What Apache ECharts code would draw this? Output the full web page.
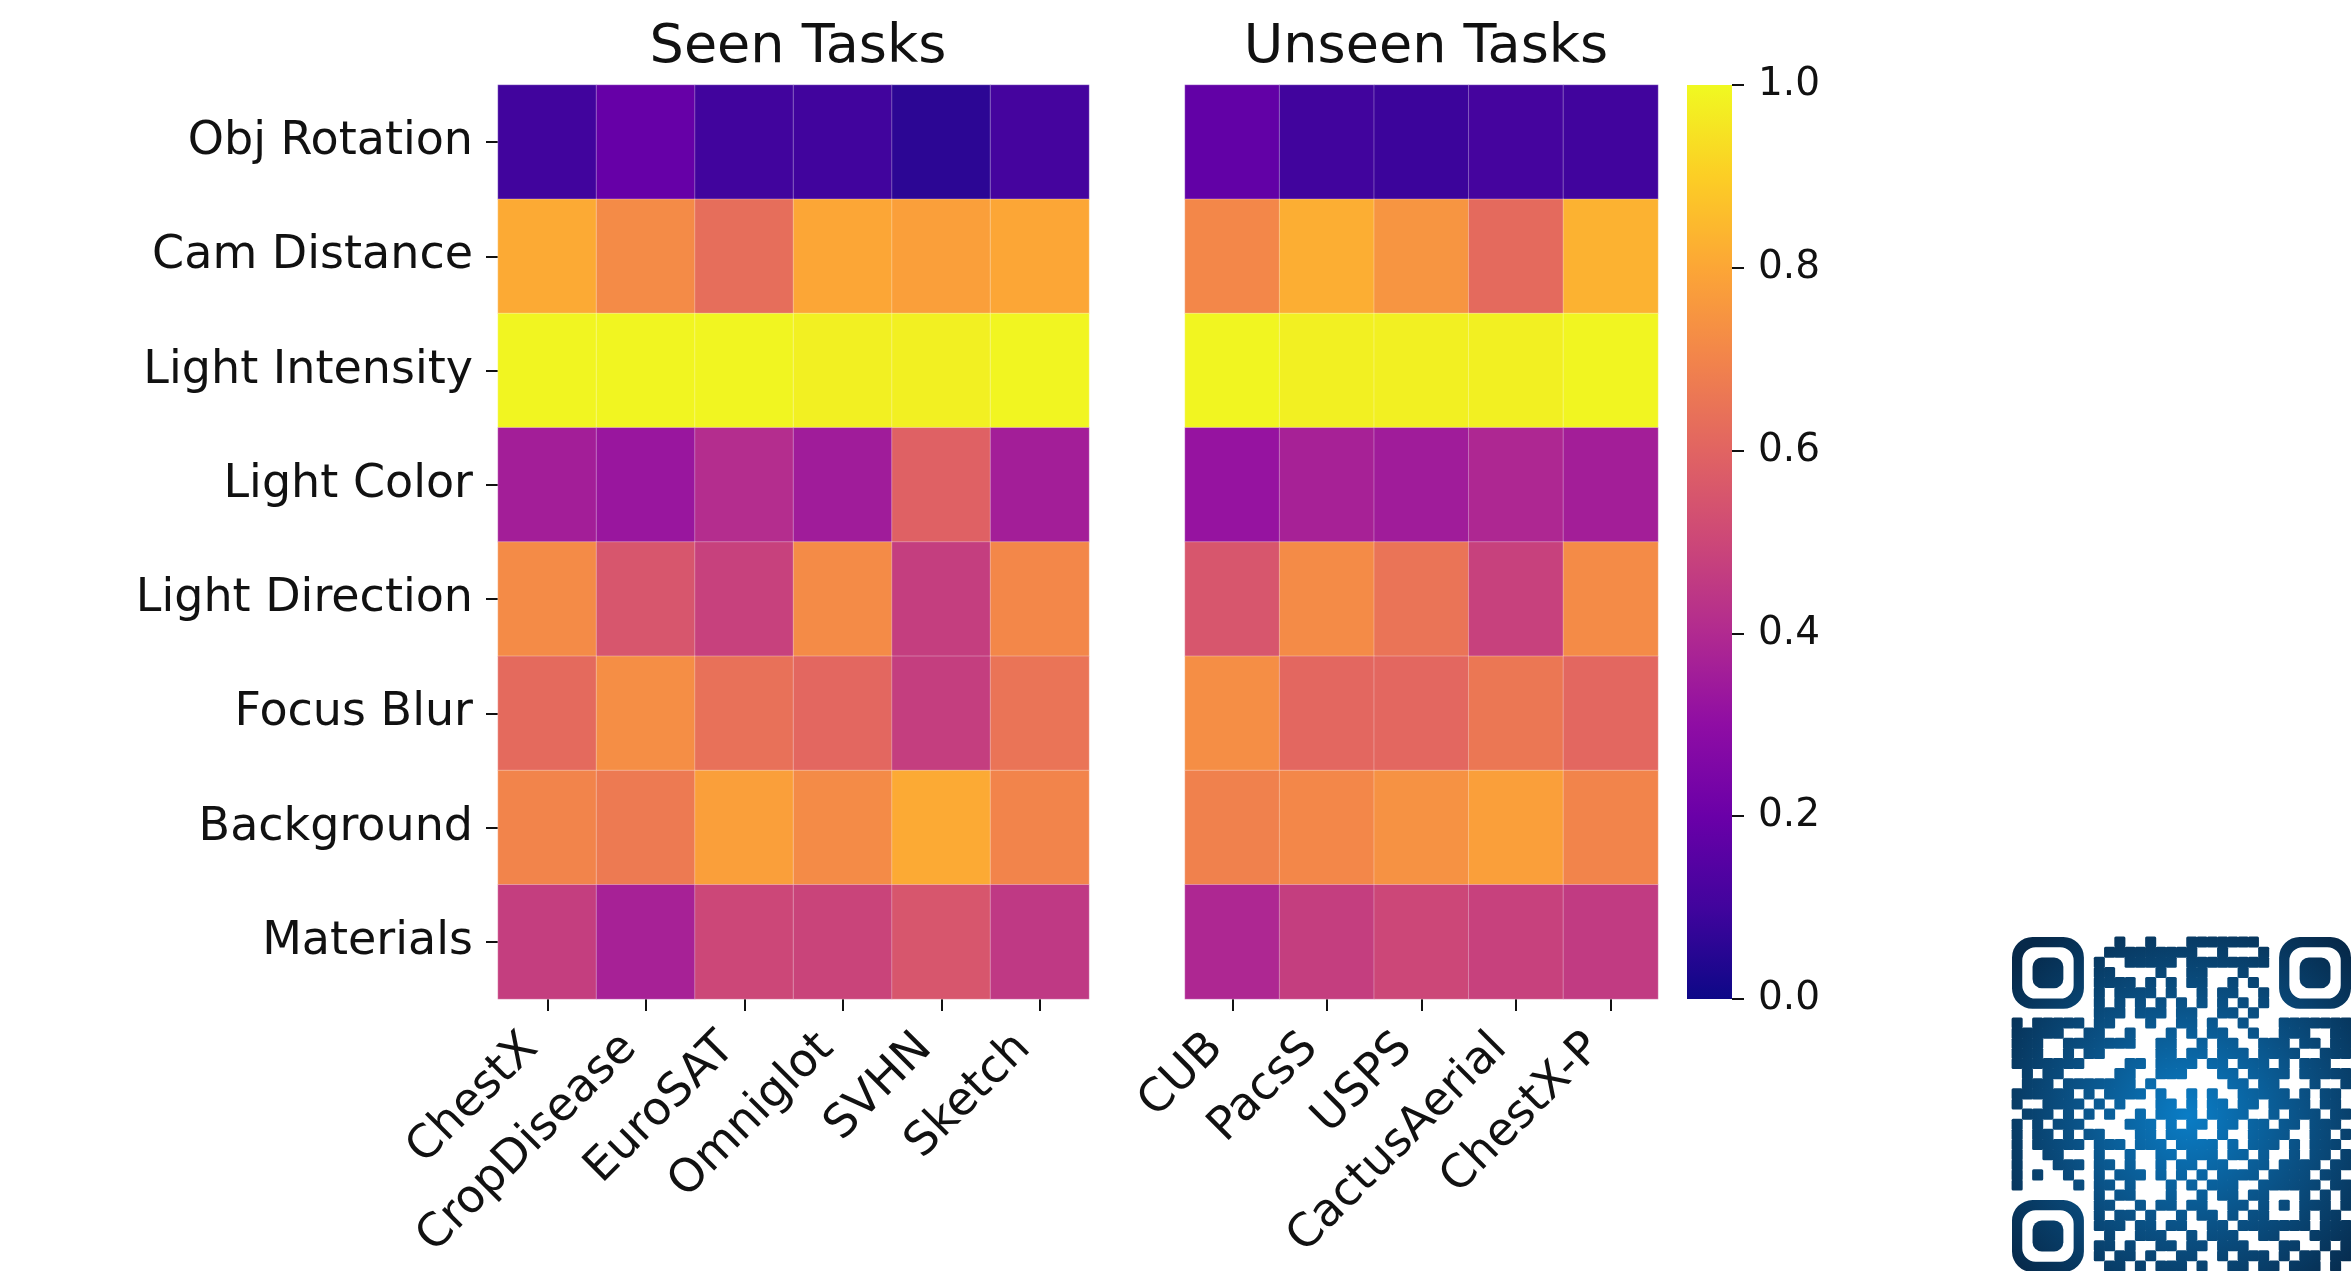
<!DOCTYPE html>
<html>
<head>
<meta charset="utf-8">
<script src="https://cdn.jsdelivr.net/npm/echarts/dist/echarts.min.js"></script>
<style>
html, body { margin: 0; padding: 0; background: #fff; }
#chart { width: 2351px; height: 1271px; }
</style>
</head>
<body>
<div id="chart"></div>
<script>
// row labels (shared by both panels)
var factors = ['Obj Rotation', 'Cam Distance', 'Light Intensity', 'Light Color',
    'Light Direction', 'Focus Blur', 'Background', 'Materials'];
var seenTasks = ['ChestX', 'CropDisease', 'EuroSAT', 'Omniglot', 'SVHN', 'Sketch'];
var unseenTasks = ['CUB', 'PacsS', 'USPS', 'CactusAerial', 'ChestX-P'];

// one row per factor, one column per task
var seenValues = [
    [0.10, 0.19, 0.10, 0.10, 0.06, 0.11],
    [0.81, 0.72, 0.63, 0.80, 0.78, 0.80],
    [0.99, 0.99, 0.99, 0.98, 0.98, 0.99],
    [0.36, 0.33, 0.41, 0.35, 0.59, 0.36],
    [0.72, 0.55, 0.48, 0.72, 0.47, 0.71],
    [0.62, 0.73, 0.64, 0.61, 0.47, 0.65],
    [0.70, 0.67, 0.78, 0.72, 0.81, 0.70],
    [0.47, 0.37, 0.50, 0.49, 0.55, 0.45]
];
var unseenValues = [
    [0.18, 0.10, 0.09, 0.11, 0.10],
    [0.71, 0.82, 0.75, 0.62, 0.83],
    [0.99, 0.98, 0.98, 0.98, 0.99],
    [0.32, 0.37, 0.35, 0.39, 0.36],
    [0.55, 0.72, 0.65, 0.48, 0.72],
    [0.73, 0.61, 0.61, 0.66, 0.61],
    [0.69, 0.71, 0.74, 0.78, 0.70],
    [0.39, 0.47, 0.50, 0.48, 0.46]
];
var colorbarTicks = [0.0, 0.2, 0.4, 0.6, 0.8, 1.0];

// qr code in the corner (1 = dark module)
var qrRows = [
    '111111100010010001111111001111111',
    '100000100111111111001000101000001',
    '101110101001111101111111101011101',
    '101110101100001001100010001011101',
    '101110101111010101100101001011101',
    '100000101011110100101100101000001',
    '111111101010101010101010101111111',
    '000000001110111011001101000000000',
    '101111101100010011010010001111111',
    '111110011001000101011001001110011',
    '111001111111001100101100111011011',
    '111001011000001101101110111100111',
    '111111100001101111011011101011100',
    '010110000011001110001101111011111',
    '011101111111010000000110110001001',
    '111111010111101001010011111010110',
    '100111101010001101011011011110110',
    '011101010100101111011110010111011',
    '101011100001110101101101101101110',
    '101101011000110111001001111001101',
    '101111101110111011110101110101110',
    '100110001001001101110110100101101',
    '100011101101001011011001101111011',
    '101001001011101010101111011110110',
    '100000101101000101011100111111011',
    '000000001011000100101101100010101',
    '111111101100101101100110101011101',
    '100000101011010010110101100010110',
    '101110101110110110011011111110111',
    '101110100100111001011100110001111',
    '101110101101001101101110001100101',
    '100000101011010011001011101011011',
    '111111100110101110100110110111010'
];

var plasma = ['#0d0887', '#41049d', '#6a00a8', '#8f0da4', '#b12a90', '#cc4778',
    '#e16462', '#f2844b', '#fca636', '#fcce25', '#f0f921'];
var font = 'DejaVu Sans';

var chart = echarts.init(document.getElementById('chart'));

function cells(values) {
    var out = [];
    values.forEach(function (row, r) {
        row.forEach(function (v, c) { out.push([c, r, v]); });
    });
    return out;
}

// qr modules, finder squares are drawn as one rounded item each
var qrSize = qrRows.length;
var finders = [[0, 0], [qrSize - 7, 0], [0, qrSize - 7]];
function inFinder(c, r) {
    return finders.some(function (f) {
        return c >= f[0] && c < f[0] + 7 && r >= f[1] && r < f[1] + 7;
    });
}
var qrData = [];
qrRows.forEach(function (row, r) {
    for (var c = 0; c < qrSize; c++) {
        if (row.charAt(c) === '1' && !inFinder(c, r)) qrData.push([c, r, 0]);
    }
});
finders.forEach(function (f) { qrData.push([f[0], f[1], 1]); });
var qrIdx = [];
for (var i = 0; i < qrSize; i++) qrIdx.push(i);

var qrFill = new echarts.graphic.RadialGradient(2188, 1115, 230, [
    { offset: 0, color: '#0a7dc6' },
    { offset: 0.5, color: '#0a5185' },
    { offset: 1, color: '#06294a' }
], true);

function renderQr(params, api) {
    var p = api.coord([api.value(0), api.value(1)]);
    var m = api.size([1, 1])[0];
    var x = p[0] - m / 2, y = p[1] - m / 2;
    if (api.value(2) === 1) {
        return {
            type: 'group',
            children: [
                { type: 'rect', shape: { x: x, y: y, width: 7 * m, height: 7 * m, r: 2 * m }, style: { fill: qrFill } },
                { type: 'rect', shape: { x: x + m, y: y + m, width: 5 * m, height: 5 * m, r: 1.3 * m }, style: { fill: '#fff' } },
                { type: 'rect', shape: { x: x + 2 * m, y: y + 2 * m, width: 3 * m, height: 3 * m, r: 0.9 * m }, style: { fill: qrFill } }
            ]
        };
    }
    return {
        type: 'rect',
        shape: { x: x - 0.4, y: y - 0.4, width: m + 0.8, height: m + 0.8, r: 1.5 },
        style: { fill: qrFill }
    };
}

var tickStyle = {
    show: true,
    alignWithLabel: true,
    length: 12,
    lineStyle: { color: '#111', width: 2 }
};
var xLabel = {
    rotate: 45, fontSize: 46, fontFamily: font, color: '#111',
    margin: 26, padding: [0, 23, 0, 0]
};
var cellStyle = { borderColor: 'rgba(255,255,255,0.3)', borderWidth: 1 };
var titleStyle = { fontSize: 54, fontWeight: 'normal', fontFamily: font, color: '#111' };

var cbStops = plasma.map(function (c, i) { return { offset: i / (plasma.length - 1), color: c }; });

var option = {
    animation: false,
    backgroundColor: '#fff',
    title: [
        { text: 'Seen Tasks', left: 793, top: 16, textAlign: 'center', textStyle: titleStyle },
        { text: 'Unseen Tasks', left: 1421, top: 16, textAlign: 'center', textStyle: titleStyle }
    ],
    grid: [
        { left: 498, top: 85, width: 591, height: 914 },
        { left: 1185, top: 85, width: 473, height: 914 },
        { left: 1687, top: 85, width: 45, height: 914 },
        { left: 2012, top: 937, width: 340, height: 340 }
    ],
    xAxis: [
        {
            gridIndex: 0, type: 'category', data: seenTasks,
            axisLine: { show: false }, axisTick: tickStyle, axisLabel: xLabel
        },
        {
            gridIndex: 1, type: 'category', data: unseenTasks,
            axisLine: { show: false }, axisTick: tickStyle, axisLabel: xLabel
        },
        { gridIndex: 2, type: 'category', data: ['cb'], show: false },
        { gridIndex: 3, type: 'category', data: qrIdx, show: false }
    ],
    yAxis: [
        {
            gridIndex: 0, type: 'category', data: factors, inverse: true,
            axisLine: { show: false }, axisTick: tickStyle,
            axisLabel: { fontSize: 46, fontFamily: font, color: '#111', margin: 25 }
        },
        { gridIndex: 1, type: 'category', data: factors, inverse: true, show: false },
        {
            gridIndex: 2, type: 'value', position: 'right',
            min: colorbarTicks[0], max: colorbarTicks[colorbarTicks.length - 1],
            interval: colorbarTicks[1] - colorbarTicks[0],
            axisLine: { show: false }, splitLine: { show: false },
            axisTick: { show: true, length: 12, lineStyle: { color: '#111', width: 2 } },
            axisLabel: {
                fontSize: 39, fontFamily: font, color: '#111', margin: 26,
                formatter: function (v) { return v.toFixed(1); }
            }
        },
        { gridIndex: 3, type: 'category', data: qrIdx, inverse: true, show: false }
    ],
    visualMap: {
        type: 'continuous', min: 0, max: 1, show: false,
        seriesIndex: [0, 1],
        inRange: { color: plasma }
    },
    series: [
        {
            type: 'heatmap', xAxisIndex: 0, yAxisIndex: 0,
            data: cells(seenValues), itemStyle: cellStyle, emphasis: { disabled: true }
        },
        {
            type: 'heatmap', xAxisIndex: 1, yAxisIndex: 1,
            data: cells(unseenValues), itemStyle: cellStyle, emphasis: { disabled: true }
        },
        {
            // colorbar
            type: 'bar', xAxisIndex: 2, yAxisIndex: 2, data: [1], barWidth: '100%', silent: true,
            itemStyle: { color: new echarts.graphic.LinearGradient(0, 1, 0, 0, cbStops) }
        },
        {
            type: 'custom', xAxisIndex: 3, yAxisIndex: 3, data: qrData,
            renderItem: renderQr, silent: true, clip: false
        }
    ]
};
chart.setOption(option);
</script>
</body>
</html>
